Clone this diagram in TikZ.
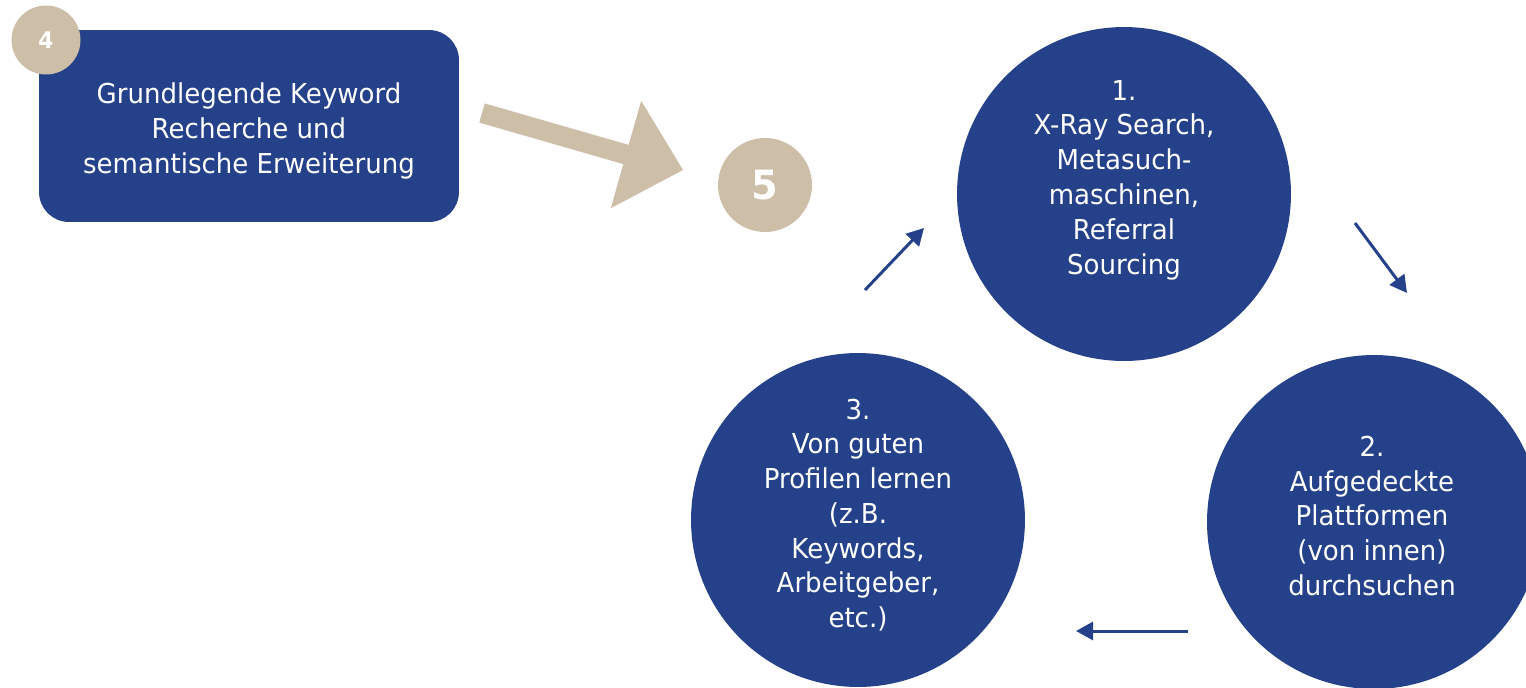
\documentclass[tikz,border=0pt]{standalone}
\usepackage{fontspec}
\setmainfont{DejaVu Sans}[FakeStretch=0.95]
\usetikzlibrary{positioning, arrows.meta}
\definecolor{navy}{RGB}{36,65,137}
\definecolor{sand}{RGB}{205,190,168}

\begin{document}
\begin{tikzpicture}[x=0.02cm, y=-0.02cm,
    bubble/.style={circle, fill=navy, minimum size=6.68cm, inner sep=0pt},
    bubbletext/.style={text=white, align=center, font=\fontsize{15.6}{19.8}\selectfont},
    keybox/.style={rectangle, rounded corners=0.6cm, fill=navy, text=white, align=center,
        minimum width=8.4cm, minimum height=3.84cm, font=\fontsize{15.6}{19.8}\selectfont},
    badge/.style={circle, fill=sand, text=white, inner sep=0pt},
    flow/.style={draw=navy, line width=1.7pt, -{Triangle[length=0.34cm, width=0.36cm]}}]
    \useasboundingbox (0,0) rectangle (1526,687);
    \clip (0,0) rectangle (1526,687);
        \node [keybox] (kw) at (249,126) {};
        \node [text=white, align=center, font=\fontsize{15.6}{19.8}\selectfont] (kwt) at (249,131) {Grundlegende Keyword\\Recherche und\\semantische Erweiterung};
        \node [badge, minimum size=1.38cm, font=\fontsize{13}{15}\bfseries] (b4) at (46,40) {4};
        \fill [sand] (484.7,103.4) -- (628.7,144.9) -- (641.2,100.8) -- (683,170)
            -- (610.8,208.2) -- (623.3,164.1) -- (479.3,122.6) -- cycle;
        \node [badge, minimum size=1.88cm, font=\fontsize{23}{26}\bfseries] (b5) at (765,185) {5};
        \node [bubble] (c1) at (1124,194) {};
        \node [bubble] (c2) at (1374,522) {};
        \node [bubble] (c3) at (858,520) {};
        \node [bubbletext] (t1) at (1124,180) {1.\\X-Ray Search,\\Metasuch-\\maschinen,\\Referral\\Sourcing};
        \node [bubbletext] (t2) at (1372,516) {2.\\Aufgedeckte\\Plattformen\\(von innen)\\durchsuchen};
        \node [bubbletext] (t3) at (858,515) {3.\\Von guten\\Profilen lernen\\(z.B.\\Keywords,\\Arbeitgeber,\\etc.)};
        \coordinate (a1s) at (865,290);
        \coordinate (a1e) at (924,228);
        \coordinate (a2s) at (1355,223);
        \coordinate (a2e) at (1407,293);
        \coordinate (a3s) at (1188,631);
        \coordinate (a3e) at (1076,631);
        \draw [flow] (a1s) to (a1e);
        \draw [flow] (a2s) to (a2e);
        \draw [flow] (a3s) to (a3e);
    \end{tikzpicture}
\end{document}
